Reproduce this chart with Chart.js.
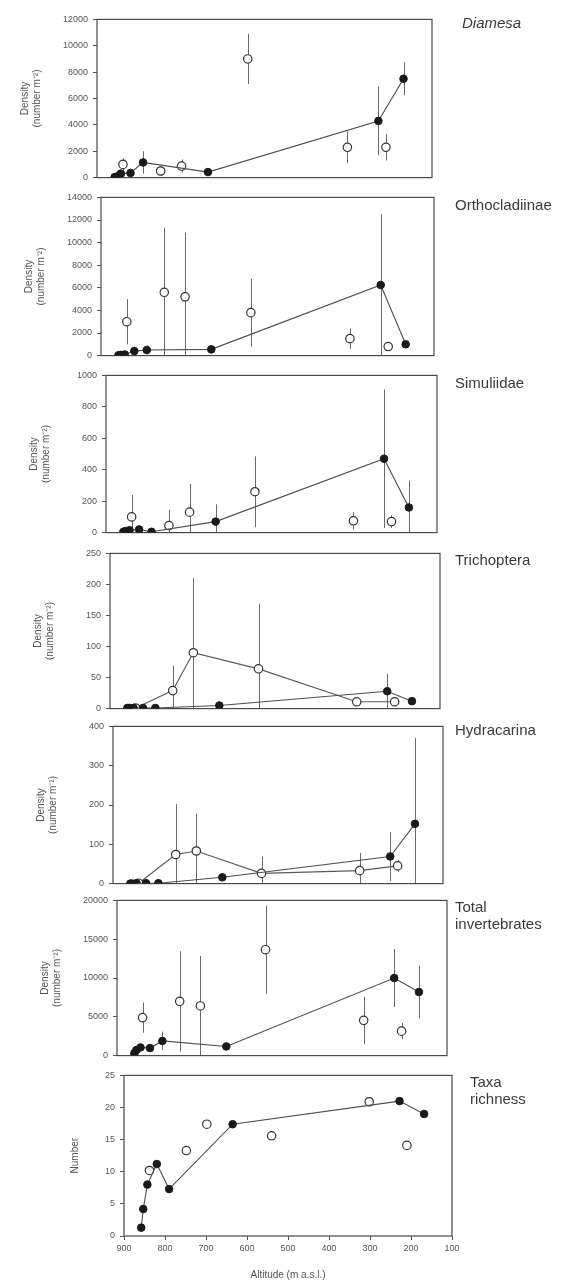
<!DOCTYPE html>
<html>
<head>
<meta charset="utf-8">
<script src="https://cdn.jsdelivr.net/npm/chart.js@4.4.0/dist/chart.umd.min.js"></script>
<style>
  body { margin: 0; background: #fff; }
  #page { position: relative; width: 569px; height: 1283px; overflow: hidden; background: #fff; }
  .panel { position: absolute; left: 0; }
  .label { position: absolute; font-family: "Liberation Sans", Arial, sans-serif; font-size: 15px; line-height: 17px; color: #3a3a3a; white-space: nowrap; }
</style>
</head>
<body>
<div id="page"></div>
<script>
// sampling sites, altitude in m a.s.l.
const filledAltitudes = [858, 853, 843, 820, 790, 635, 228, 168];
const openAltitudes = [838, 748, 698, 540, 302, 210];

// density (number m-2), mean and SD for each site
const diamesaFilled = [30, 80, 300, 350, 1150, 420, 4300, 7500];
const diamesaFilledSd = [0, 0, 0, 0, 850, 0, 2600, 1250];
const diamesaOpen = [1000, 500, 875, 9000, 2300, 2300];
const diamesaOpenSd = [450, 380, 500, 1900, 1200, 1000];

const orthoFilled = [30, 60, 100, 400, 500, 550, 6250, 1000];
const orthoFilledSd = [0, 0, 0, 400, 400, 0, 6250, 0];
const orthoOpen = [3000, 5600, 5200, 3800, 1500, 800];
const orthoOpenSd = [2000, 5700, 5700, 3000, 900, 300];

const simuFilled = [5, 10, 15, 20, 5, 70, 470, 160];
const simuFilledSd = [0, 0, 0, 10, 0, 110, 440, 170];
const simuOpen = [100, 45, 130, 260, 75, 70];
const simuOpenSd = [140, 100, 180, 225, 55, 40];

const trichoFilled = [1, 1, 1, 1, 1, 5, 28, 12];
const trichoFilledSd = [0, 0, 0, 0, 0, 0, 28, 0];
const trichoOpen = [1, 29, 90, 64, 11, 11];
const trichoOpenSd = [0, 40, 120, 105, 0, 0];

const hydraFilled = [0, 0, 1, 1, 1, 16, 69, 152];
const hydraFilledSd = [0, 0, 0, 0, 0, 0, 62, 218];
const hydraOpen = [1, 74, 83, 26, 33, 45];
const hydraOpenSd = [0, 128, 95, 43, 45, 15];

const totalFilled = [290, 710, 1050, 970, 1890, 1180, 10000, 8190];
const totalFilledSd = [0, 0, 0, 0, 1200, 0, 3740, 3400];
const totalOpen = [4900, 7000, 6400, 13650, 4540, 3150];
const totalOpenSd = [1950, 6450, 6450, 5680, 3030, 1050];

// taxa richness (number of taxa)
const taxaFilled = [1.3, 4.2, 8, 11.2, 7.3, 17.4, 21, 19];
const taxaOpen = [10.2, 13.3, 17.4, 15.6, 20.9, 14.1];

const altitudeTicks = [900, 800, 700, 600, 500, 400, 300, 200, 100];

// panel boxes follow the slight skew of the scanned page
const panels = [
  { title: ['Diamesa'], italic: true, tx: 462, ty: 14, box: [97, 432, 17, 180], max: 12000, step: 2000,
    filled: diamesaFilled, filledSd: diamesaFilledSd, open: diamesaOpen, openSd: diamesaOpenSd, openLine: false },
  { title: ['Orthocladiinae'], tx: 455, ty: 196, box: [101, 434, 195, 358], max: 14000, step: 2000,
    filled: orthoFilled, filledSd: orthoFilledSd, open: orthoOpen, openSd: orthoOpenSd, openLine: false },
  { title: ['Simuliidae'], tx: 455, ty: 374, box: [106, 437, 373, 535], max: 1000, step: 200,
    filled: simuFilled, filledSd: simuFilledSd, open: simuOpen, openSd: simuOpenSd, openLine: false },
  { title: ['Trichoptera'], tx: 455, ty: 551, box: [110, 440, 551, 711], max: 250, step: 50,
    filled: trichoFilled, filledSd: trichoFilledSd, open: trichoOpen, openSd: trichoOpenSd, openLine: true },
  { title: ['Hydracarina'], tx: 455, ty: 721, box: [113, 443, 724, 886], max: 400, step: 100,
    filled: hydraFilled, filledSd: hydraFilledSd, open: hydraOpen, openSd: hydraOpenSd, openLine: true },
  { title: ['Total', 'invertebrates'], tx: 455, ty: 898, box: [117, 447, 898, 1058], max: 20000, step: 5000,
    filled: totalFilled, filledSd: totalFilledSd, open: totalOpen, openSd: totalOpenSd, openLine: false },
  { title: ['Taxa', 'richness'], tx: 470, ty: 1073, box: [124, 452, 1073, 1236], max: 25, step: 5,
    filled: taxaFilled, filledSd: null, open: taxaOpen, openSd: null, openLine: false, last: true }
];

// vertical error bars (mean +/- SD), drawn through the chart scales
const errorBars = {
  id: 'errorBars',
  beforeDatasetsDraw(chart) {
    const { ctx, chartArea, scales } = chart;
    ctx.save();
    ctx.beginPath();
    ctx.rect(chartArea.left, chartArea.top, chartArea.width, chartArea.height);
    ctx.clip();
    ctx.strokeStyle = '#6a6a6a';
    ctx.lineWidth = 1;
    chart.data.datasets.forEach(ds => {
      if (!ds.sd) return;
      ds.data.forEach((p, i) => {
        const s = ds.sd[i];
        if (!s) return;
        const px = Math.round(scales.x.getPixelForValue(p.x)) + 0.5;
        ctx.beginPath();
        ctx.moveTo(px, scales.y.getPixelForValue(Math.max(0, p.y - s)));
        ctx.lineTo(px, scales.y.getPixelForValue(p.y + s));
        ctx.stroke();
      });
    });
    ctx.restore();
  }
};

// closed frame round the plot area
const frame = {
  id: 'frame',
  beforeDatasetsDraw(chart) {
    const { ctx, chartArea } = chart;
    ctx.save();
    ctx.strokeStyle = '#4a4a4a';
    ctx.lineWidth = 1.2;
    ctx.strokeRect(chartArea.left, chartArea.top, chartArea.width, chartArea.height);
    ctx.restore();
  }
};

const page = document.getElementById('page');
const font = '"Liberation Sans", Arial, sans-serif';

panels.forEach(p => {
  const [left, right, top, bottom] = p.box;
  const canvasTop = top - 8;
  const height = p.last ? 1283 - canvasTop : bottom - top + 16;

  const holder = document.createElement('div');
  holder.className = 'panel';
  holder.style.top = canvasTop + 'px';
  const canvas = document.createElement('canvas');
  canvas.width = 569;
  canvas.height = height;
  holder.appendChild(canvas);
  page.appendChild(holder);

  const lab = document.createElement('div');
  lab.className = 'label';
  lab.style.left = p.tx + 'px';
  lab.style.top = p.ty + 'px';
  if (p.italic) lab.style.fontStyle = 'italic';
  lab.innerHTML = p.title.join('<br>');
  page.appendChild(lab);

  const filledPts = filledAltitudes.map((a, i) => ({ x: a, y: p.filled[i] }));
  const openPts = openAltitudes.map((a, i) => ({ x: a, y: p.open[i] }));

  new Chart(canvas, {
    type: 'scatter',
    data: {
      datasets: [
        {
          data: filledPts, sd: p.filledSd, showLine: true,
          borderColor: '#4d4d4d', borderWidth: 1.1,
          pointRadius: 3.8, pointBackgroundColor: '#1a1a1a', pointBorderColor: '#1a1a1a', pointBorderWidth: 1
        },
        {
          data: openPts, sd: p.openSd, showLine: p.openLine,
          borderColor: '#5a5a5a', borderWidth: 1.1,
          pointRadius: 4.2, pointBackgroundColor: '#ffffff', pointBorderColor: '#333333', pointBorderWidth: 1.2
        }
      ]
    },
    plugins: [errorBars, frame],
    options: {
      responsive: false,
      animation: false,
      layout: { padding: { left: 0, right: 569 - right, top: 8, bottom: p.last ? 0 : 8 } },
      plugins: { legend: { display: false }, tooltip: { enabled: false } },
      scales: {
        x: {
          type: 'linear', min: 100, max: 900, reverse: true,
          afterFit(scale) { scale.height = p.last ? 47 : 0; },
          afterBuildTicks(scale) { scale.ticks = altitudeTicks.map(v => ({ value: v })); },
          ticks: { display: !!p.last, color: '#555', font: { family: font, size: 9 }, padding: 3, maxRotation: 0 },
          grid: { display: !!p.last, drawOnChartArea: false, tickLength: 4, color: '#555' },
          border: { display: false },
          title: { display: !!p.last, text: 'Altitude (m a.s.l.)', color: '#555', font: { family: font, size: 10 }, padding: { top: 10, bottom: 2 } }
        },
        y: {
          min: 0, max: p.max,
          afterFit(scale) { scale.width = left; },
          ticks: { stepSize: p.step, color: '#555', font: { family: font, size: 9 }, padding: 5, callback: v => String(v) },
          grid: { drawOnChartArea: false, tickLength: 4, color: '#555' },
          border: { display: false },
          title: {
            display: true,
            text: p.last ? 'Number' : ['Density', '(number m⁻²)'],
            color: '#555', font: { family: font, size: 10 },
            padding: { top: p.last ? left - 55 : left - 78, bottom: 0 }
          }
        }
      }
    }
  });
});
</script>
</body>
</html>
